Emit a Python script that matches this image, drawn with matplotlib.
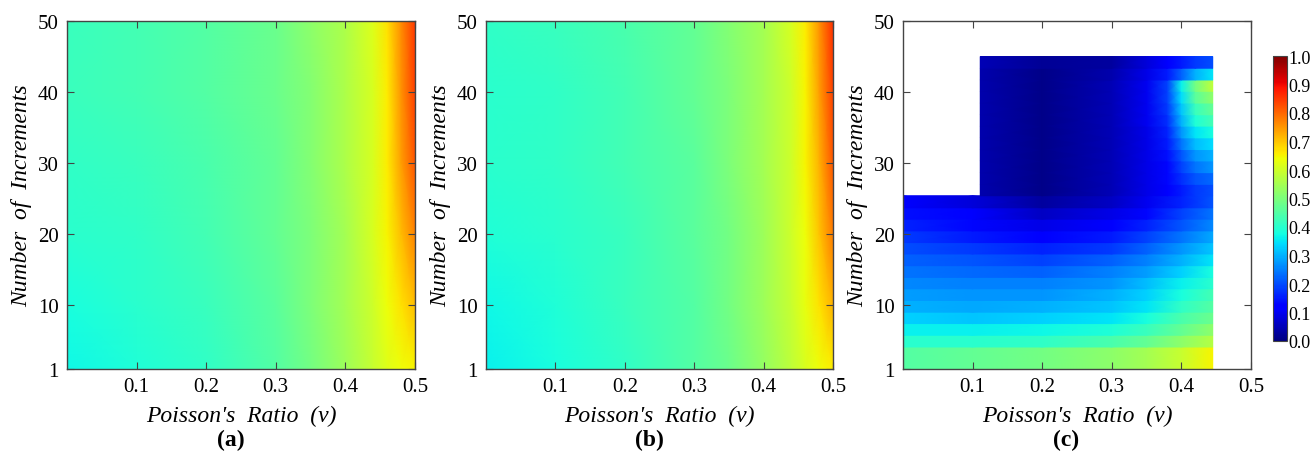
import numpy as np
import matplotlib
matplotlib.use("Agg")
import matplotlib.pyplot as plt
from matplotlib.ticker import FormatStrFormatter

plt.rcParams["font.family"] = ["Liberation Serif", "DejaVu Serif"]

# --- panels (a) and (b): normalised error on a coarse (increments x nu) grid
nu_ab = [0.0, 0.1, 0.2, 0.3, 0.35, 0.4, 0.44, 0.46, 0.48, 0.5]
inc_ab = [1, 10, 20, 30, 40, 50]

err_a = [
    [0.37, 0.39, 0.41, 0.45, 0.49, 0.54, 0.59, 0.62, 0.64, 0.65],
    [0.38, 0.40, 0.42, 0.46, 0.50, 0.55, 0.60, 0.64, 0.67, 0.71],
    [0.40, 0.41, 0.43, 0.47, 0.50, 0.55, 0.61, 0.65, 0.71, 0.77],
    [0.41, 0.42, 0.44, 0.47, 0.51, 0.56, 0.61, 0.66, 0.74, 0.82],
    [0.42, 0.43, 0.45, 0.48, 0.51, 0.56, 0.61, 0.66, 0.75, 0.84],
    [0.42, 0.43, 0.45, 0.48, 0.52, 0.56, 0.62, 0.67, 0.76, 0.85],
]

err_b = [
    [0.36, 0.38, 0.41, 0.45, 0.48, 0.53, 0.58, 0.61, 0.64, 0.66],
    [0.37, 0.39, 0.42, 0.45, 0.49, 0.54, 0.59, 0.63, 0.67, 0.72],
    [0.39, 0.40, 0.42, 0.46, 0.49, 0.54, 0.60, 0.64, 0.70, 0.78],
    [0.40, 0.41, 0.43, 0.46, 0.50, 0.55, 0.60, 0.65, 0.72, 0.82],
    [0.40, 0.41, 0.43, 0.47, 0.50, 0.55, 0.60, 0.65, 0.74, 0.84],
    [0.41, 0.42, 0.44, 0.47, 0.51, 0.55, 0.61, 0.66, 0.75, 0.86],
]

# --- panel (c): banded rows, lower block and upper block
nu_c_lo = [0.0, 0.1, 0.2, 0.3, 0.35, 0.4, 0.445]
rows_c_lo = [1.0, 4.1, 5.75, 7.4, 9.0, 10.65, 12.3, 13.9, 15.55,
             17.2, 18.8, 20.45, 22.1, 23.7, 25.4]
err_c_lo = [
    [0.45, 0.47, 0.49, 0.52, 0.55, 0.59, 0.65],
    [0.40, 0.40, 0.41, 0.44, 0.47, 0.52, 0.57],
    [0.36, 0.36, 0.37, 0.39, 0.42, 0.47, 0.52],
    [0.33, 0.32, 0.33, 0.35, 0.38, 0.44, 0.48],
    [0.30, 0.29, 0.30, 0.32, 0.35, 0.41, 0.45],
    [0.28, 0.27, 0.27, 0.30, 0.33, 0.38, 0.43],
    [0.26, 0.25, 0.25, 0.27, 0.31, 0.36, 0.40],
    [0.24, 0.23, 0.22, 0.25, 0.28, 0.33, 0.38],
    [0.22, 0.21, 0.19, 0.22, 0.25, 0.30, 0.35],
    [0.20, 0.18, 0.16, 0.18, 0.22, 0.27, 0.32],
    [0.18, 0.15, 0.12, 0.15, 0.19, 0.24, 0.29],
    [0.16, 0.13, 0.09, 0.12, 0.16, 0.21, 0.26],
    [0.14, 0.11, 0.06, 0.09, 0.13, 0.19, 0.24],
    [0.12, 0.08, 0.03, 0.06, 0.10, 0.16, 0.21],
]

nu_c_up = [0.111, 0.2, 0.3, 0.35, 0.38, 0.4, 0.42, 0.445]
rows_c_up = [25.4, 27.0, 28.65, 30.3, 31.9, 33.55, 35.2, 36.8, 38.45,
             40.1, 41.7, 43.35, 45.0]
err_c_up = [
    [0.04, 0.01, 0.05, 0.09, 0.12, 0.15, 0.18, 0.20],
    [0.04, 0.01, 0.05, 0.09, 0.13, 0.17, 0.21, 0.23],
    [0.04, 0.01, 0.05, 0.09, 0.13, 0.19, 0.24, 0.27],
    [0.04, 0.01, 0.05, 0.09, 0.14, 0.21, 0.27, 0.30],
    [0.04, 0.01, 0.05, 0.09, 0.15, 0.24, 0.31, 0.34],
    [0.04, 0.01, 0.05, 0.09, 0.16, 0.27, 0.35, 0.38],
    [0.04, 0.01, 0.05, 0.10, 0.17, 0.30, 0.39, 0.43],
    [0.04, 0.01, 0.05, 0.10, 0.18, 0.32, 0.42, 0.47],
    [0.04, 0.01, 0.05, 0.10, 0.19, 0.34, 0.46, 0.52],
    [0.04, 0.01, 0.05, 0.10, 0.19, 0.36, 0.49, 0.58],
    [0.04, 0.01, 0.04, 0.09, 0.15, 0.22, 0.30, 0.35],
    [0.05, 0.02, 0.03, 0.08, 0.12, 0.15, 0.18, 0.20],
]

panel_labels = ["(a)", "(b)", "(c)"]
x_ticks = [0.1, 0.2, 0.3, 0.4, 0.5]
y_ticks = [1, 10, 20, 30, 40, 50]
cbar_ticks = [0.0, 0.1, 0.2, 0.3, 0.4, 0.5, 0.6, 0.7, 0.8, 0.9, 1.0]

W, H = 1314, 456
fig = plt.figure(figsize=(W / 100, H / 100), dpi=100)

def px_axes(left, top, right, bottom):
    return fig.add_axes([left / W, 1 - bottom / H, (right - left) / W, (bottom - top) / H])

axes = [px_axes(67, 22, 415, 370), px_axes(486, 22, 833, 370), px_axes(903, 22, 1251, 370)]
cmap = plt.get_cmap("jet")

def draw_rows(ax, nu, edges, table):
    # each row is flat in y and shaded smoothly along nu
    for i, vals in enumerate(table):
        X = np.array([nu, nu])
        Y = np.array([[edges[i]] * len(nu), [edges[i + 1]] * len(nu)])
        C = np.array([vals, vals])
        m = ax.pcolormesh(X, Y, C, shading="gouraud", cmap=cmap, vmin=0, vmax=1)
    return m

for ax, err in zip(axes[:2], [err_a, err_b]):
    X, Y = np.meshgrid(nu_ab, inc_ab)
    ax.pcolormesh(X, Y, np.array(err), shading="gouraud", cmap=cmap, vmin=0, vmax=1)

draw_rows(axes[2], nu_c_lo, rows_c_lo, err_c_lo)
mesh = draw_rows(axes[2], nu_c_up, rows_c_up, err_c_up)

for ax, lab in zip(axes, panel_labels):
    ax.set_xlim(0, 0.5)
    ax.set_ylim(1, 50)
    ax.set_xticks(x_ticks)
    ax.set_yticks(y_ticks)
    ax.xaxis.set_major_formatter(FormatStrFormatter("%.1f"))
    ax.tick_params(direction="in", top=True, right=True, length=5, width=0.8,
                   color="#444444", labelsize=15, pad=6)
    for sp in ax.spines.values():
        sp.set_color("#444444")
        sp.set_linewidth(1.0)
    ax.set_xlabel("Poisson's  Ratio  (ν)", fontsize=17, fontstyle="italic", labelpad=6)
    ax.set_ylabel("Number  of  Increments", fontsize=17, fontstyle="italic", labelpad=4)
    pos = ax.get_position()
    fig.text(pos.x0 + pos.width / 2 - 0.008, 0.033, lab, ha="center", va="center",
             fontsize=17, fontweight="bold")

cax = px_axes(1273, 57, 1287, 342)
cb = fig.colorbar(mesh, cax=cax, ticks=cbar_ticks)
cb.ax.yaxis.set_major_formatter(FormatStrFormatter("%.1f"))
cb.ax.tick_params(length=0, labelsize=13, pad=1)
cb.outline.set_edgecolor("#444444")

fig.savefig("out.png", dpi=100)
